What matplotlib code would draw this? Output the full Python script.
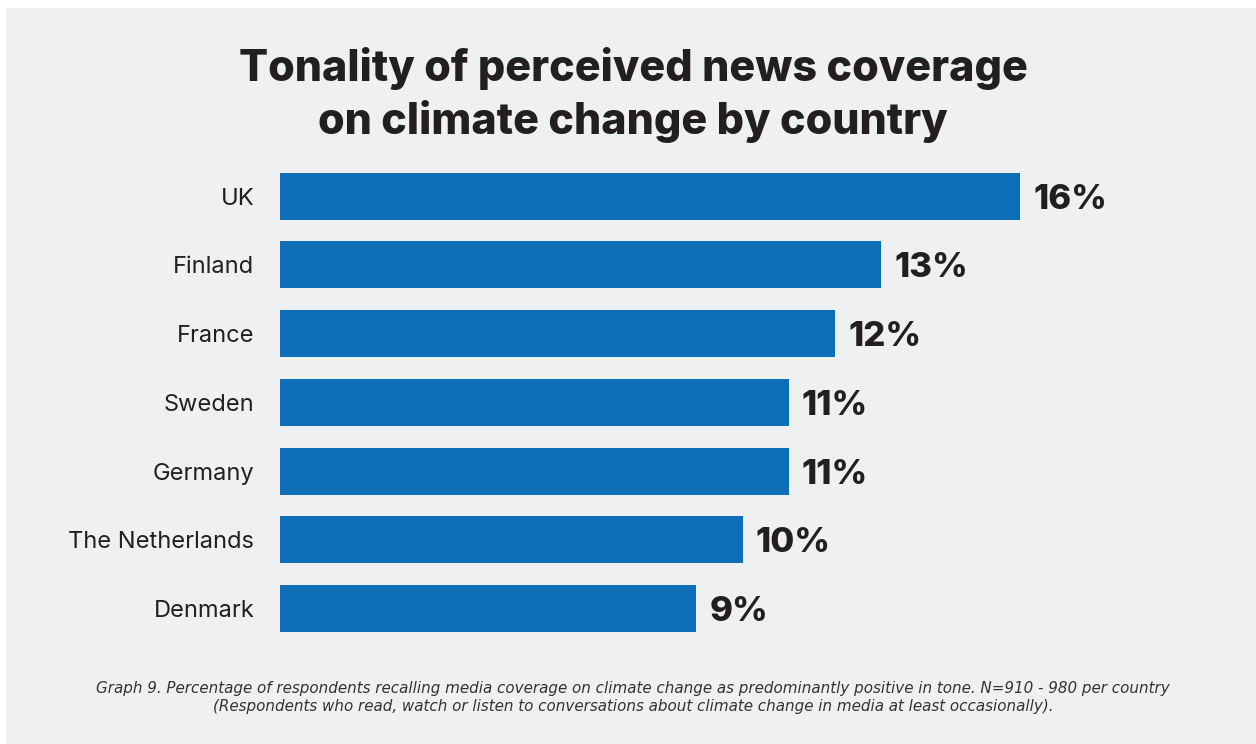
import matplotlib.pyplot as plt
from matplotlib.patches import Rectangle

countries = ["UK", "Finland", "France", "Sweden", "Germany", "The Netherlands", "Denmark"]
shares = [16, 13, 12, 11, 11, 10, 9]

title = "Tonality of perceived news coverage\non climate change by country"
caption = ("Graph 9. Percentage of respondents recalling media coverage on climate change as "
           "predominantly positive in tone. N=910 - 980 per country\n"
           "(Respondents who read, watch or listen to conversations about climate change "
           "in media at least occasionally).")

BAR = "#0d6db6"
PANEL = "#eff0f2"
INK = "#231f20"

fig = plt.figure(figsize=(12.56, 7.44), dpi=100)
fig.patch.set_facecolor("white")
fig.patches.append(Rectangle((6 / 1256, 0), 1 - 6 / 1256, 736 / 744,
                             transform=fig.transFigure, facecolor=PANEL,
                             edgecolor="none", zorder=-10))

# axes placed so that 0% sits at x=280px and 1% is ~46px wide
ax = fig.add_axes([280 / 1256, 0.136, 925 / 1256, 0.6465])
ax.set_facecolor("none")
y = list(range(len(countries)))
ax.barh(y, shares, height=0.684, color=BAR)
ax.set_xlim(0, 20)
ax.set_ylim(len(countries) - 0.5, -0.5)
ax.set_yticks(y)
ax.set_yticklabels(countries, fontsize=17, color=INK, family="Inter")
ax.tick_params(axis="y", length=0, pad=18.5)
ax.set_xticks([])
for s in ax.spines.values():
    s.set_visible(False)

for yi, v in zip(y, shares):
    ax.annotate(f"{v}%", xy=(v, yi), xytext=(9.5, -2.5), textcoords="offset points",
                va="center", ha="left", fontsize=25, fontweight="heavy",
                color=INK, family="Inter")

fig.text(633 / 1256, 1 - 95 / 744, title, ha="center", va="center",
         fontsize=31, fontweight="heavy", color=INK, family="Inter", linespacing=1.3)

fig.text(633 / 1256, 1 - 698 / 744, caption, ha="center", va="center",
         fontsize=10.9, fontstyle="italic", color="#333333", family="DejaVu Sans",
         linespacing=1.25)

fig.savefig("out.png", dpi=100)
